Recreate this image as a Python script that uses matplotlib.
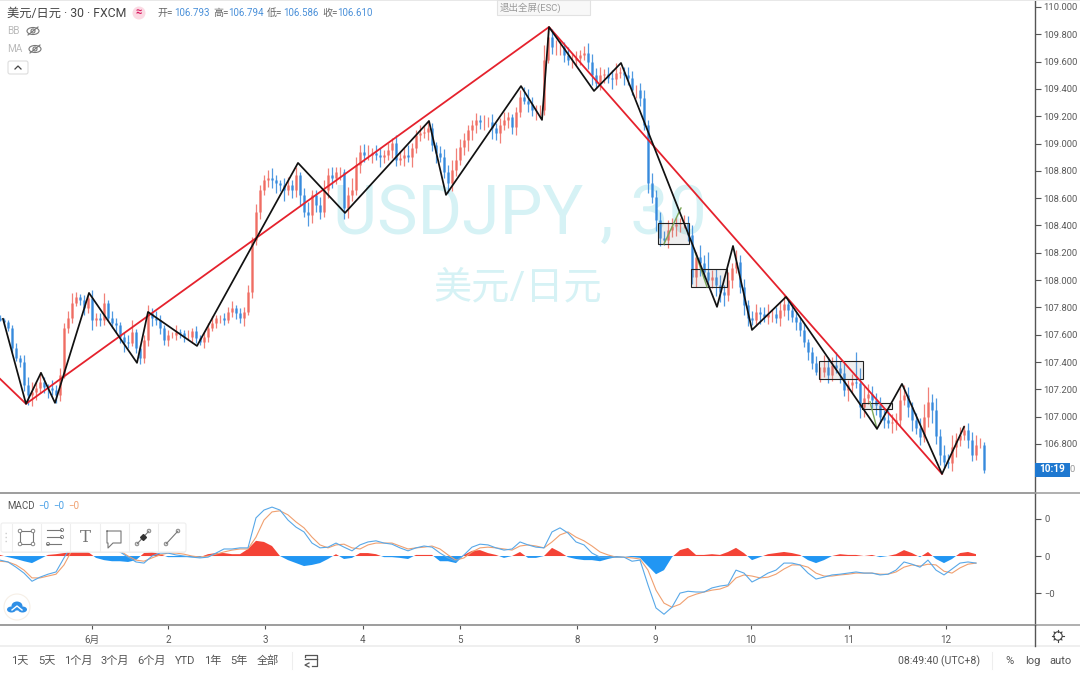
import numpy as np
import matplotlib
matplotlib.use('Agg')
import matplotlib.pyplot as plt
from matplotlib.patches import Rectangle, FancyBboxPatch, Circle, Ellipse

plt.rcParams['font.family'] = ['Roboto', 'Noto Sans CJK SC', 'DejaVu Sans']

# hourly closes, first candle at the left edge of the chart
closes = [
    107.709, 107.694, 107.650, 107.504, 107.430, 107.401, 107.233, 107.160, 107.182, 107.211,
    107.255, 107.218, 107.211, 107.196, 107.160, 107.306, 107.650, 107.723, 107.833, 107.877,
    107.855, 107.796, 107.870, 107.709, 107.723, 107.709, 107.833, 107.723, 107.687, 107.672,
    107.584, 107.548, 107.540, 107.621, 107.504, 107.430, 107.562, 107.760, 107.723, 107.709,
    107.650, 107.562, 107.599, 107.599, 107.621, 107.613, 107.584, 107.584, 107.628, 107.577,
    107.548, 107.584, 107.650, 107.687, 107.723, 107.723, 107.709, 107.767, 107.796, 107.760,
    107.723, 107.767, 107.914, 108.294, 108.499, 108.660, 108.733, 108.748, 108.733, 108.711,
    108.697, 108.660, 108.697, 108.660, 108.770, 108.624, 108.499, 108.477, 108.624, 108.550,
    108.499, 108.660, 108.770, 108.748, 108.792, 108.792, 108.528, 108.624, 108.660, 108.843,
    108.938, 108.916, 108.916, 108.931, 108.916, 108.902, 108.916, 108.953, 109.004, 108.880,
    108.894, 108.916, 108.902, 108.968, 109.063, 109.077, 109.085, 109.114, 108.990, 108.931,
    108.902, 108.792, 108.711, 108.807, 108.880, 108.975, 109.026, 109.099, 109.136, 109.173,
    109.158, 109.158, 109.158, 109.114, 109.077, 109.136, 109.173, 109.195, 109.121, 109.231,
    109.341, 109.312, 109.290, 109.246, 109.246, 109.246, 109.612, 109.780, 109.707, 109.707,
    109.707, 109.648, 109.612, 109.612, 109.626, 109.648, 109.663, 109.597, 109.502, 109.443,
    109.502, 109.509, 109.480, 109.473, 109.517, 109.524, 109.502, 109.480, 109.392, 109.392,
    109.334, 109.136, 108.711, 108.609, 108.441, 108.309, 108.294, 108.367, 108.397, 108.411,
    108.419, 108.419, 108.331, 108.023, 108.170, 108.126, 108.060, 108.001, 108.023, 107.965,
    107.914, 107.892, 108.001, 108.089, 108.133, 107.950, 107.818, 107.723, 107.709, 107.767,
    107.752, 107.730, 107.752, 107.752, 107.723, 107.782, 107.826, 107.782, 107.730, 107.694,
    107.635, 107.548, 107.474, 107.394, 107.328, 107.328, 107.364, 107.306, 107.379, 107.357,
    107.321, 107.196, 107.233, 107.255, 107.247, 107.072, 107.138, 107.167, 107.123, 107.086,
    106.999, 106.977, 106.955, 106.962, 106.977, 107.123, 107.160, 107.072, 106.977, 106.918,
    106.852, 106.999, 107.109, 107.050, 106.859, 106.720, 106.669, 106.662, 106.779, 106.830,
    106.867, 106.903, 106.830, 106.720, 106.793, 106.793, 106.610,
]
# wick lengths above / below the body, in pips
wick_up = [
    2,1,1,2,3,2,4,5,6,4,6,3,2,5,3,4,3,4,6,3,
    2,3,2,5,3,3,6,2,4,3,2,3,4,7,2,2,3,5,3,4,
    3,2,3,2,4,2,2,4,2,3,2,3,3,4,2,2,3,3,4,2,
    3,3,4,2,5,3,3,5,6,3,2,4,5,3,5,2,4,6,3,3,
    5,6,4,5,3,3,2,5,7,5,4,5,6,3,5,4,3,4,3,5,
    4,5,6,3,3,5,4,5,3,2,4,5,4,6,7,5,4,3,3,4,
    3,4,3,5,3,4,5,3,2,3,4,6,7,4,3,3,9,7,5,4,
    4,3,5,4,4,3,4,6,5,4,5,3,4,5,6,3,3,5,4,3,
    4,5,3,6,4,5,4,6,5,4,3,5,4,6,3,7,5,12,4,5,
    6,4,5,3,7,4,5,3,4,5,3,4,6,3,4,5,6,3,4,3,
    3,4,2,3,4,3,7,6,5,8,4,6,3,5,18,9,7,6,5,4,
    5,4,6,5,4,7,6,5,3,4,6,8,9,5,7,4,6,5,7,4,
    5,3,4,5,6,4,2,
]
wick_dn = [
    1,2,2,3,2,3,4,6,7,5,3,4,6,3,5,4,2,3,3,2,
    3,4,3,6,4,4,3,2,3,5,4,6,3,2,3,4,3,4,5,3,
    4,3,4,2,3,3,3,2,4,3,2,4,3,2,3,3,3,2,3,4,
    3,5,2,4,3,4,3,4,5,6,4,7,3,5,4,6,3,7,5,4,
    4,3,5,6,4,5,7,6,4,3,5,4,3,5,3,6,4,3,5,4,
    3,5,3,6,3,4,3,5,4,6,3,4,6,5,4,3,5,7,6,5,
    4,5,3,7,4,6,3,5,4,5,3,2,5,4,6,5,3,2,4,5,
    5,4,3,5,3,4,3,4,6,3,4,5,3,6,4,3,6,4,3,5,
    5,3,6,4,7,5,3,5,4,6,5,3,4,4,6,8,4,3,5,7,
    6,7,4,5,3,4,6,5,3,4,6,3,4,5,3,5,4,6,3,5,
    4,3,5,4,2,6,3,5,4,3,6,4,7,5,3,7,6,4,5,6,
    4,5,3,6,5,4,3,6,7,4,5,3,6,8,5,6,4,3,5,6,
    4,3,5,4,3,2,2,
]

# wave lines drawn over the candles
zig_hours = [0.75, 6.5, 10.25, 13.75, 22.25, 34.25, 37, 49.25, 74.5, 86.25, 107.25, 111.5, 130.25,
             135.5, 137.25, 148.5, 155.25, 179.25, 183.25, 188, 196.5, 219.25, 225.5, 235.5, 241]
zig_prices = [107.716, 107.094, 107.321, 107.101, 107.906, 107.394, 107.767, 107.518, 108.858, 108.492,
              109.165, 108.624, 109.421, 109.173, 109.853, 109.385, 109.590, 107.804, 108.250, 107.635,
              107.877, 106.911, 107.240, 106.581, 106.925]
trend_hours = [0, 6.5, 137.25, 235.5]
trend_prices = [107.277, 107.094, 109.853, 106.581]

# hour start, hour end, price low, price high
boxes = [(164.5, 172.25, 108.265, 108.418),
         (172.75, 181.75, 107.950, 108.082),
         (204.75, 215.75, 107.277, 107.409),
         (215.5, 223, 107.057, 107.101)]
green_legs = [([166, 170.25], [108.265, 108.528]),
              ([173.75, 176.75], [108.206, 107.950]),
              ([217.5, 219.25], [107.109, 106.911])]

day_hours = [23, 42, 66.25, 90.75, 115, 144.25, 163.75, 187.75, 212.25, 236.5]
day_labels = ['6月', '2', '3', '4', '5', '8', '9', '10', '11', '12']
price_ticks = [106.8, 107.0, 107.2, 107.4, 107.6, 107.8, 108.0, 108.2, 108.4, 108.6,
               108.8, 109.0, 109.2, 109.4, 109.6, 109.8, 110.0]

# MACD panel, one value every 2 hours, in pips
macd_line = [
    -1.1, -1.6, -3.0, -4.6, -6.8, -5.7, -4.9, -4.3, -0.5, 3.0, 3.0, 2.7, 2.4, 2.4, 1.9, 1.1, -0.3, -1.6, -1.9, 0,
    0.8, 0.8, 0.3, 0, -0.3, -0.5, -0.3, 0.8, 1.9, 1.9, 2.2, 2.2, 10.3, 12.4, 13.2, 12.4, 9.7, 7.8, 6.5, 3.5,
    2.2, 2.4, 3.5, 2.4, 1.4, 3.0, 3.8, 4.1, 3.5, 3.2, 2.2, 1.4, 2.2, 2.7, 2.4, 0.8, -0.5, -1.4, 0.3, 2.4,
    3.2, 3.0, 2.2, 1.6, 1.9, 3.8, 3.0, 2.4, 2.2, 6.5, 7.6, 6.2, 3.8, 3.0, 0.8, -0.3, -0.3, -0.3, -0.3, -1.4,
    -1.1, -7.8, -14.0, -15.7, -13.8, -10.0, -9.5, -9.7, -9.7, -8.6, -8.1, -7.8, -3.8, -4.6, -7.0, -5.9, -4.6, -3.8, -1.9, -1.9,
    -2.4, -4.6, -6.2, -5.7, -5.1, -4.9, -4.6, -4.3, -4.6, -4.6, -5.1, -4.9, -3.8, -1.6, -2.2, -3.0, -1.1, -3.8, -5.1, -3.5,
    -1.9, -1.6, -1.9,
]
signal_line = [
    -1.4, -1.6, -2.4, -3.8, -5.9, -5.9, -5.4, -4.9, -2.4, 1.6, 2.4, 2.7, 2.7, 2.4, 2.2, 1.4, 0, -1.1, -1.4, -0.5,
    0.3, 0.8, 0.8, 0.5, 0, -0.3, 0, 0.5, 1.1, 1.6, 1.9, 1.9, 5.1, 9.7, 11.9, 12.2, 11.1, 9.2, 7.6, 5.1,
    3.0, 2.2, 3.0, 3.2, 2.2, 1.9, 3.0, 3.5, 3.5, 3.5, 2.7, 1.9, 2.2, 2.4, 2.7, 1.9, 0.3, -1.1, -0.5, 1.1,
    2.2, 2.4, 2.2, 1.9, 1.6, 2.7, 3.0, 2.7, 2.2, 3.8, 5.7, 6.5, 5.1, 4.1, 2.7, 1.1, 0.3, -0.3, -0.3, -0.5,
    -0.8, -3.8, -9.2, -12.7, -13.8, -13.0, -11.1, -10.3, -9.7, -9.2, -8.9, -8.1, -5.9, -5.1, -5.4, -5.9, -5.7, -4.9, -3.5, -2.4,
    -2.4, -3.0, -4.6, -5.4, -5.4, -5.1, -4.9, -4.6, -4.6, -4.6, -4.9, -4.9, -4.3, -3.0, -2.4, -2.7, -2.2, -2.4, -4.1, -4.6,
    -3.2, -2.2, -1.9,
]
macd_hist = [
    0.3, -0.3, -0.8, -1.4, -1.9, -0.8, 0.3, 0.5, 0.8, 1.1, 1.1, 1.1, -0.5, -1.1, -1.4, -1.4, -1.6, -1.1, 0.8, 1.1,
    0.5, -0.3, -0.3, -0.3, -0.3, -0.3, 0.5, 0.8, 0.8, 0.5, 0.5, 1.9, 4.1, 3.8, 2.7, 0, -1.1, -1.9, -2.7, -2.4,
    -1.9, -0.8, 0.5, -0.8, -0.5, 0.8, 0.8, 0.5, -0.3, -0.3, -0.5, -0.8, 0.3, 0.3, 0.3, -1.4, -1.4, -1.9, 0.3, 1.4,
    1.6, 0.8, 0.3, -0.5, 0, 1.1, -0.5, -0.5, 0, 2.2, 1.1, -0.3, -0.8, -1.1, -1.1, -1.4, -0.8, -0.3, 0, -0.3,
    -0.5, -2.7, -4.9, -3.8, -0.3, 1.6, 2.2, 0.3, 0.3, 0.5, 0.3, 1.1, 2.2, 0.8, -1.1, -0.3, 0.5, 0.8, 1.1, 0.8,
    0.3, -1.1, -1.9, -1.1, 0, 0.5, 0.3, 0.3, 0, 0.3, -0.3, 0, 0.5, 1.6, 0.8, -0.3, 1.1, -0.8, -1.9, -0.8,
    0.8, 1.1, 0.5,
]

UP = '#ef6a60'
DOWN = '#3388dc'
AXIS = '#555555'
GREY_LINE = '#9a9a9a'
TEXT = '#5a5a5a'
WATERMARK = '#d6f2f5'
H = 675.0
W = 1080.0


def px_text(ax, x, y, s, size=6.8, color=TEXT, ha='left', **kw):
    ax.text(x, y, s, fontsize=size, color=color, ha=ha, va='center', **kw)


def eye(ax, x, y):
    ax.add_patch(Ellipse((x, y), 12, 7, fill=False, ec='#777777', lw=0.8))
    ax.add_patch(Circle((x, y), 2, fill=False, ec='#777777', lw=0.8))
    ax.plot([x - 5, x + 5], [y + 4, y - 4], color='#777777', lw=0.8)


fig = plt.figure(figsize=(10.8, 6.75), dpi=100, facecolor='white')

# watermark sits under everything
bg = fig.add_axes([0, 0, 1, 1], zorder=0)
bg.set_xlim(0, W)
bg.set_ylim(H, 0)
bg.axis('off')
px_text(bg, 520, 215, 'USDJPY , 30', size=49, color=WATERMARK, ha='center')
px_text(bg, 518, 288, '美元/日元', size=27.5, color=WATERMARK, ha='center')

ax = fig.add_axes([0, 1 - 493 / H, 1035 / W, 493 / H], zorder=1)
ax.patch.set_alpha(0)
macd_ax = fig.add_axes([0, 1 - 625 / H, 1035 / W, 132 / H], zorder=1)
macd_ax.patch.set_alpha(0)

# candles
c = np.array(closes)
o = np.concatenate([[107.72], c[:-1]])
hours = np.arange(len(c))
hi = np.maximum(o, c) + np.array(wick_up) * 0.012
lo = np.minimum(o, c) - np.array(wick_dn) * 0.012
colors = [UP if c[i] >= o[i] else DOWN for i in range(len(c))]
ax.vlines(hours, lo, hi, colors=colors, lw=0.9, alpha=0.85)
ax.vlines(hours, np.minimum(o, c), np.maximum(o, c), colors=colors, lw=1.8, alpha=0.85)

for x0, x1, p0, p1 in boxes:
    ax.add_patch(Rectangle((x0, p0), x1 - x0, p1 - p0, fc='#8a8a8a', alpha=0.14, ec='none', zorder=3))
    ax.add_patch(Rectangle((x0, p0), x1 - x0, p1 - p0, fill=False, ec='#222222', lw=0.8, zorder=4))
for xs, ys in green_legs:
    ax.plot(xs, ys, color='#7da85a', lw=1.0, zorder=4)

ax.plot(trend_hours, trend_prices, color='#e5222d', lw=1.3, zorder=5)
ax.plot(zig_hours, zig_prices, color='#111111', lw=1.25, zorder=6)

ax.set_xlim(0, 1035 / 4)
ax.set_ylim(106.441, 110.051)
ax.yaxis.tick_right()
ax.set_yticks(price_ticks)
ax.set_yticklabels(['%.3f' % p for p in price_ticks])
ax.tick_params(axis='y', length=4, width=0.8, color=AXIS, labelcolor=TEXT, labelsize=6.8, pad=2)
ax.set_xticks([])
for s in ['top', 'left', 'bottom']:
    ax.spines[s].set_visible(False)
ax.spines['right'].set_color(AXIS)
ax.spines['right'].set_linewidth(1)

# MACD
macd_hours = np.arange(len(macd_line)) * 2
h = np.array(macd_hist)
macd_ax.fill_between(macd_hours, 0, h, where=h >= 0, interpolate=True, color='#f44336', lw=0)
macd_ax.fill_between(macd_hours, 0, h, where=h <= 0, interpolate=True, color='#2196f3', lw=0)
macd_ax.plot(macd_hours, signal_line, color='#f0a070', lw=0.8)
macd_ax.plot(macd_hours, macd_line, color='#58a8e8', lw=0.8)
macd_ax.set_xlim(0, 1035 / 4)
macd_ax.set_ylim(-18.6, 17.0)
macd_ax.yaxis.tick_right()
macd_ax.set_yticks([-10, 0, 10])
macd_ax.set_yticklabels(['\u22120', '0', '0'])
macd_ax.tick_params(axis='y', length=4, width=0.8, color=AXIS, labelcolor=TEXT, labelsize=6.8, pad=3)
macd_ax.set_xticks(day_hours)
macd_ax.set_xticklabels(day_labels)
macd_ax.tick_params(axis='x', length=3, width=0.8, color=AXIS, labelcolor=TEXT, labelsize=7, pad=4)
macd_ax.spines['left'].set_visible(False)
macd_ax.spines['top'].set_color(GREY_LINE)
macd_ax.spines['top'].set_linewidth(1.1)
macd_ax.spines['bottom'].set_color(GREY_LINE)
macd_ax.spines['bottom'].set_linewidth(1.1)
macd_ax.spines['right'].set_color(AXIS)
macd_ax.spines['right'].set_linewidth(1)

# interface chrome on top, in pixel coordinates
ui = fig.add_axes([0, 0, 1, 1], zorder=2)
ui.set_xlim(0, W)
ui.set_ylim(H, 0)
ui.axis('off')

ui.plot([0, 1080], [493, 493], color=GREY_LINE, lw=1.1)
ui.plot([0, 1080], [625, 625], color=GREY_LINE, lw=1.1)
ui.plot([1035, 1035], [625, 646], color=AXIS, lw=1)
ui.add_patch(Rectangle((0, 645), 1080, 2, fc='#efefef', ec='none'))
ui.add_patch(Rectangle((0, 0), 1080, 1, fc='#e8e8e8', ec='none'))

# header
px_text(ui, 7, 13, '美元/日元 · 30 · FXCM', size=8.8, color='#444444')
ui.add_patch(Circle((139, 13), 6.5, fc='#fbd9e3', ec='none'))
px_text(ui, 139, 12.5, '≈', size=8, color='#d81b60', ha='center', fontweight='bold')
for lx, nx, lab, val in [(158, 174, '开=', '106.793'), (213, 228, '高=', '106.794'),
                         (267, 283, '低=', '106.586'), (322, 337, '收=', '106.610')]:
    px_text(ui, lx, 13, lab, size=7.2, color='#666666')
    px_text(ui, nx, 13, val, size=7, color='#4a90d9')
px_text(ui, 7, 31, 'BB', size=7.2, color='#bbbbbb')
px_text(ui, 7, 49, 'MA', size=7.2, color='#bbbbbb')
eye(ui, 33, 31)
eye(ui, 35, 49)
ui.add_patch(FancyBboxPatch((8, 61), 20, 13, boxstyle='round,pad=0,rounding_size=2', fc='white', ec='#dddddd', lw=0.8))
ui.plot([15, 18, 21], [69, 66, 69], color='#444444', lw=0.9)

# exit fullscreen hint
ui.add_patch(Rectangle((497, 0), 93, 15, fc='#f8f8f8', ec='#e2e2e2', lw=0.8))
px_text(ui, 500, 8, '退出全屏(ESC)', size=6.8, color='#9a9a9a')

# last price tag
ui.add_patch(Rectangle((1035, 463), 35, 14, fc='#1e78d0', ec='none'))
px_text(ui, 1052.5, 469.5, '10:19', size=7.2, color='white', ha='center', fontweight='bold')
px_text(ui, 1070, 469.5, '0', color='#9a9a9a', size=6.8)

# MACD legend
px_text(ui, 7, 506, 'MACD', size=7, color='#555555')
px_text(ui, 38, 506, '\u22120', size=7, color='#4aa0e6')
px_text(ui, 53, 506, '\u22120', size=7, color='#4aa0e6')
px_text(ui, 68, 506, '\u22120', size=7, color='#f0a070')

# drawing toolbar
ui.add_patch(FancyBboxPatch((2, 525), 184, 28, boxstyle='round,pad=0,rounding_size=2', fc='#e6e6e6', ec='none', alpha=0.5))
ui.add_patch(FancyBboxPatch((1, 523), 185, 29, boxstyle='round,pad=0,rounding_size=2', fc='white', ec='#eeeeee', lw=0.8))
for sx in [12, 41, 70, 100, 129, 158]:
    ui.plot([sx, sx], [524, 551], color='#eeeeee', lw=0.8)
for dy in [533, 537, 541]:
    ui.plot([5, 7], [dy, dy], color='#cccccc', lw=1, ls=':')
ic = '#777777'
ui.add_patch(Rectangle((20, 531), 13, 13, fill=False, ec=ic, lw=0.8))
for px, py in [(20, 531), (33, 531), (20, 544), (33, 544)]:
    ui.add_patch(Circle((px, py), 1.8, fc='white', ec=ic, lw=0.6))
for ly in [530, 537, 544]:
    ui.plot([47, 61], [ly, ly], color=ic, lw=0.8)
for px, py in [(62, 530), (62, 537), (48, 544)]:
    ui.add_patch(Circle((px, py), 1.6, fc='white', ec=ic, lw=0.6))
px_text(ui, 85, 537, 'T', size=12, color=ic, ha='center', family='DejaVu Serif')
ui.plot([107, 121, 121, 113, 108, 108, 107, 107], [531, 531, 543, 543, 548, 543, 543, 531], color=ic, lw=0.8)
for x0, x1 in [(137, 149), (166, 178)]:
    ui.plot([x0, x1], [544, 531], color=ic, lw=0.8)
    ui.add_patch(Circle((x0, 544), 1.8, fc='white', ec=ic, lw=0.6))
    ui.add_patch(Circle((x1, 531), 1.8, fc='white', ec=ic, lw=0.6))
ui.plot([143], [537], marker='D', ms=3, color='#333333')

# cloud badge
ui.add_patch(Circle((17, 607), 13, fc='white', ec='#f6efe6', lw=0.8))
ui.add_patch(Ellipse((17, 606), 11, 9, fc='#2f8fe6', ec='none'))
ui.add_patch(Ellipse((11.5, 609.5), 9, 6, fc='#2f8fe6', ec='none'))
ui.add_patch(Ellipse((22.5, 609.5), 9, 6, fc='#2f8fe6', ec='none'))
ui.plot([12, 17, 22], [610, 606, 610], color='white', lw=1)

# settings gear
ui.add_patch(Circle((1058, 636), 4.2, fill=False, ec='#444444', lw=0.8))
for a in np.arange(0, 360, 45):
    ca, sa = np.cos(np.radians(a)), np.sin(np.radians(a))
    ui.plot([1058 + 4.2 * ca, 1058 + 5.6 * ca], [636 + 4.2 * sa, 636 + 5.6 * sa], color='#444444', lw=0.8)

# bottom bar
for bx, lab in [(20, '1天'), (47, '5天'), (78, '1个月'), (115, '3个月'), (152, '6个月'),
                (185, 'YTD'), (213, '1年'), (239, '5年'), (268, '全部')]:
    px_text(ui, bx, 661, lab, size=8, color='#555555', ha='center')
ui.plot([292, 292], [652, 669], color='#eeeeee', lw=0.8)
ui.plot([992, 992], [652, 669], color='#eeeeee', lw=0.8)
ui.plot([305, 305, 317, 317, 312], [657, 655, 655, 666, 666], color='#555555', lw=0.9)
ui.plot([305, 317], [659, 659], color='#555555', lw=0.9)
ui.plot([309, 305, 309], [663, 665, 667], color='#555555', lw=0.9)
px_text(ui, 980, 661, '08:49:40 (UTC+8)', size=7.6, color='#555555', ha='right')
px_text(ui, 1010, 661, '%', size=8, color='#555555', ha='center')
px_text(ui, 1033, 661, 'log', size=8, color='#555555', ha='center')
px_text(ui, 1061, 661, 'auto', size=8, color='#555555', ha='center')

fig.savefig('out.png', dpi=100, facecolor='white')
